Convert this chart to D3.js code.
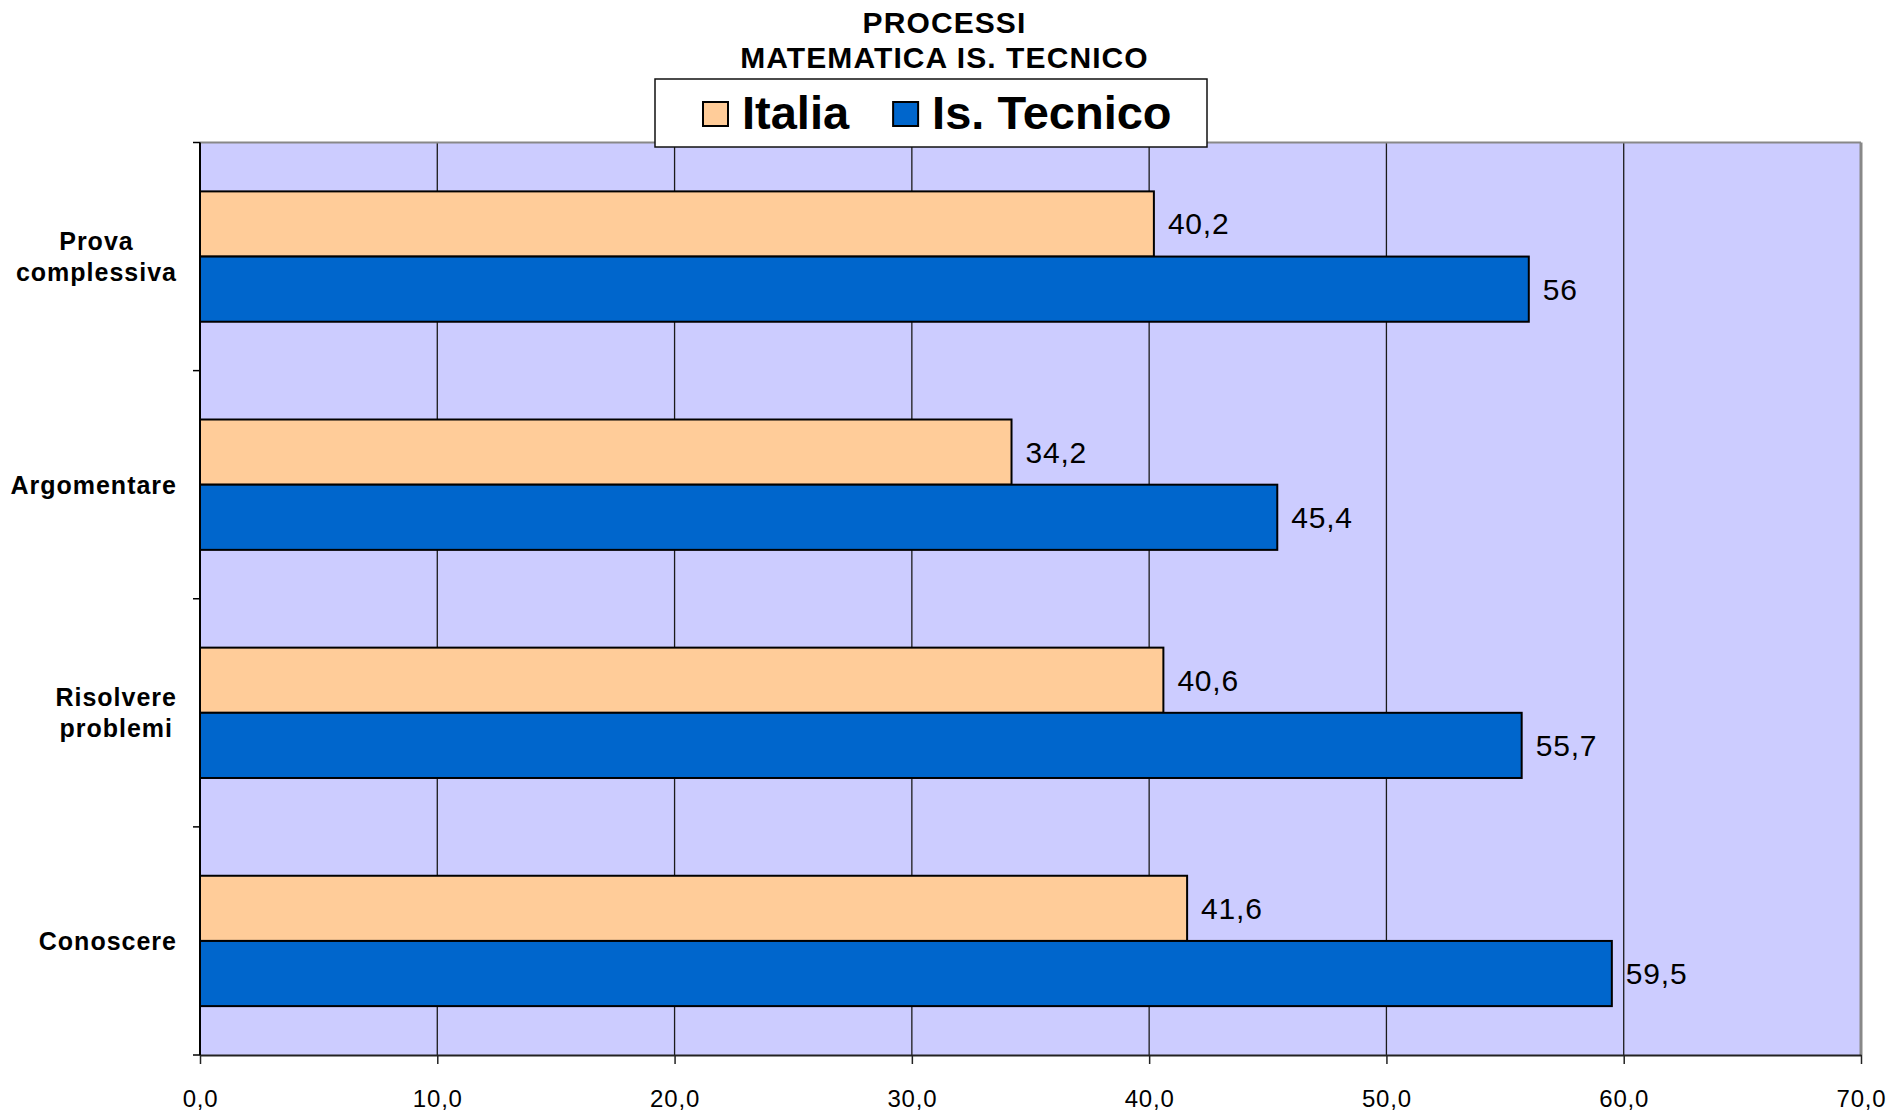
<!DOCTYPE html>
<html>
<head>
<meta charset="utf-8">
<script src="https://cdn.jsdelivr.net/npm/d3@7"></script>
<style>
  body { margin: 0; background: #ffffff; }
  svg { display: block; }
  text { font-family: "Liberation Sans", Arial, sans-serif; fill: #000; }
</style>
</head>
<body>
<svg id="chart" width="1893" height="1111"></svg>
<script>
// Data
const categories = ["Prova complessiva", "Argomentare", "Risolvere problemi", "Conoscere"];
const categoryLines = [["Prova", "complessiva"], ["Argomentare"], ["Risolvere", "problemi"], ["Conoscere"]];
const seriesNames = ["Italia", "Is. Tecnico"];
const italiaValues = [40.2, 34.2, 40.6, 41.6];
const tecnicoValues = [56, 45.4, 55.7, 59.5];
const xTickValues = [0, 10, 20, 30, 40, 50, 60, 70];
const titleLines = ["PROCESSI", "MATEMATICA IS. TECNICO"];
const seriesColors = ["#FFCC99", "#0066CC"];

const rows = [];
categories.forEach((c, i) => {
  rows.push({ cat: c, series: seriesNames[0], value: italiaValues[i] });
  rows.push({ cat: c, series: seriesNames[1], value: tecnicoValues[i] });
});

const itLocale = d3.formatLocale({ decimal: ",", thousands: ".", grouping: [3], currency: ["€", ""] });
const tickFmt = itLocale.format(".1f");
const valueFmt = v => String(v).replace(".", ",");

const svg = d3.select("#chart");
const W = 1893, H = 1111;
const plot = { left: 200, right: 1861, top: 142.5, bottom: 1055 };

const x = d3.scaleLinear().domain([0, 70]).range([plot.left, plot.right]);
const y = d3.scaleBand().domain(categories).range([plot.top, plot.bottom]).padding(0);
const ySeries = d3.scaleBand().domain(seriesNames).range([0, y.bandwidth()])
  .paddingInner(0).paddingOuter(0.75);
const color = d3.scaleOrdinal().domain(seriesNames).range(seriesColors);

// Plot background
svg.append("rect")
  .attr("x", plot.left).attr("y", plot.top)
  .attr("width", plot.right - plot.left).attr("height", plot.bottom - plot.top)
  .attr("fill", "#CCCCFF");

// Vertical gridlines
svg.append("g").selectAll("line")
  .data(xTickValues.filter(v => v > 0 && v < 70))
  .join("line")
  .attr("x1", d => x(d)).attr("x2", d => x(d))
  .attr("y1", plot.top).attr("y2", plot.bottom)
  .attr("stroke", "#1a1a1a").attr("stroke-width", 1.3);

// Plot frame (top and right)
svg.append("line")
  .attr("x1", plot.left).attr("x2", plot.right)
  .attr("y1", plot.top).attr("y2", plot.top)
  .attr("stroke", "#888888").attr("stroke-width", 2);
svg.append("line")
  .attr("x1", plot.right).attr("x2", plot.right)
  .attr("y1", plot.top).attr("y2", plot.bottom)
  .attr("stroke", "#888888").attr("stroke-width", 3);

// Bars
svg.append("g").selectAll("rect")
  .data(rows)
  .join("rect")
  .attr("x", x(0))
  .attr("y", d => y(d.cat) + ySeries(d.series))
  .attr("width", d => x(d.value) - x(0))
  .attr("height", ySeries.bandwidth())
  .attr("fill", d => color(d.series))
  .attr("stroke", "#000").attr("stroke-width", 2);

// Value labels
svg.append("g").selectAll("text")
  .data(rows)
  .join("text")
  .attr("x", d => x(d.value) + 14)
  .attr("y", d => y(d.cat) + ySeries(d.series) + ySeries.bandwidth() / 2)
  .attr("dominant-baseline", "central")
  .attr("font-size", 30)
  .attr("letter-spacing", 0.8)
  .text(d => valueFmt(d.value));

// X axis
const xAxis = d3.axisBottom(x).tickValues(xTickValues).tickFormat(tickFmt)
  .tickSizeInner(9).tickSizeOuter(0).tickPadding(26);
const gx = svg.append("g").attr("transform", `translate(0,${plot.bottom})`).call(xAxis);
gx.select(".domain").attr("stroke", "#222").attr("stroke-width", 2);
gx.selectAll(".tick line").attr("stroke", "#222").attr("stroke-width", 1.5);
gx.selectAll(".tick text")
  .attr("font-family", "'Liberation Sans', Arial, sans-serif")
  .attr("font-size", 24).attr("letter-spacing", 0.8).attr("fill", "#000");

// Y axis line and ticks at category boundaries
const yBounds = categories.map(c => y(c)).concat([plot.bottom]);
svg.append("line")
  .attr("x1", plot.left).attr("x2", plot.left)
  .attr("y1", plot.top).attr("y2", plot.bottom)
  .attr("stroke", "#000").attr("stroke-width", 2);
svg.append("g").selectAll("line")
  .data(yBounds)
  .join("line")
  .attr("x1", plot.left - 7).attr("x2", plot.left)
  .attr("y1", d => d).attr("y2", d => d)
  .attr("stroke", "#000").attr("stroke-width", 1.5);

// Category labels (multi-line, centred with each other, block right-aligned)
const lineH = 31;
const labelRight = 177;
categories.forEach((c, i) => {
  const lines = categoryLines[i];
  const cy = y(c) + y.bandwidth() / 2;
  const t = svg.append("text")
    .attr("font-size", 25).attr("font-weight", "bold").attr("letter-spacing", 1)
    .attr("text-anchor", "middle");
  const spans = lines.map((ln, k) => t.append("tspan")
    .attr("y", cy + (k - (lines.length - 1) / 2) * lineH)
    .attr("dominant-baseline", "central")
    .text(ln));
  const maxW = d3.max(spans, s => s.node().getComputedTextLength());
  spans.forEach(s => s.attr("x", labelRight - maxW / 2));
});

// Title
svg.append("g").selectAll("text")
  .data(titleLines)
  .join("text")
  .attr("x", W / 2 - 2)
  .attr("y", (d, i) => 33 + i * 35)
  .attr("text-anchor", "middle")
  .attr("font-size", 30).attr("font-weight", "bold").attr("letter-spacing", 1.1)
  .text(d => d);

// Legend
const legend = svg.append("g");
legend.append("rect")
  .attr("x", 655).attr("y", 79).attr("width", 552).attr("height", 68)
  .attr("fill", "#fff").attr("stroke", "#111").attr("stroke-width", 1.5);
let lx = 703;
seriesNames.forEach((s, i) => {
  legend.append("rect")
    .attr("x", lx).attr("y", 102).attr("width", 25).attr("height", 24)
    .attr("fill", color(s)).attr("stroke", "#000").attr("stroke-width", 2);
  const t = legend.append("text")
    .attr("x", lx + 39).attr("y", 129)
    .attr("font-size", 47).attr("font-weight", "bold")
    .text(s);
  lx = lx + 39 + t.node().getComputedTextLength() + 44;
});
</script>
</body>
</html>
